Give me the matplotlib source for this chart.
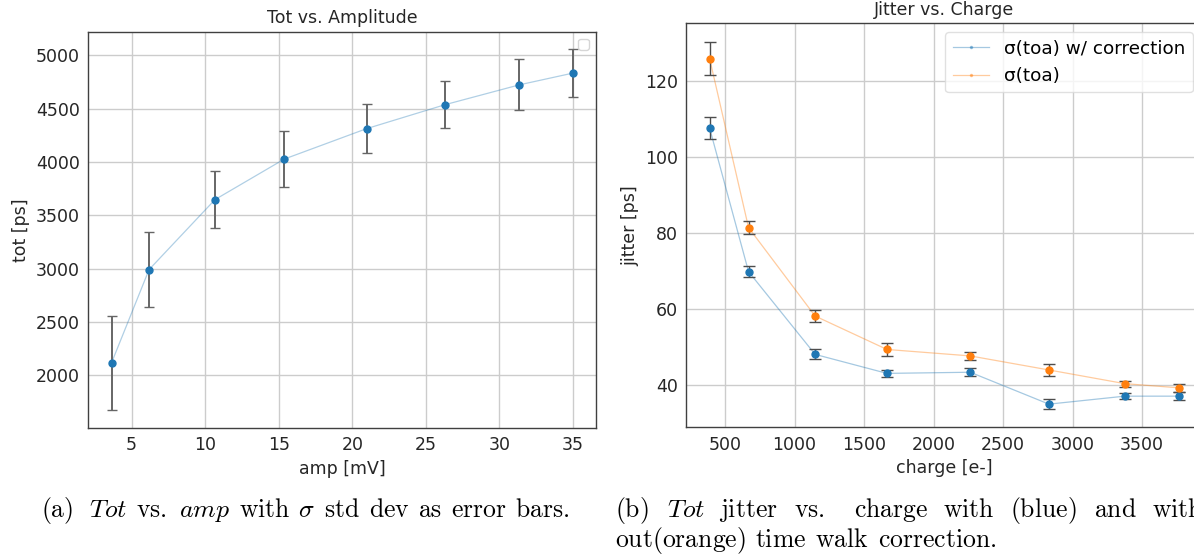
"""Two-panel figure: ToT vs. amplitude and timing jitter vs. charge.

Outputs: out.png
"""

from __future__ import annotations

import matplotlib

matplotlib.use("Agg")
import matplotlib.pyplot as plt

# --- panel (a): tot vs. amp -------------------------------------------------
amp_mv = [3.64, 6.19, 10.67, 15.38, 20.97, 26.31, 31.36, 35.0]
tot_ps = [2118, 2992, 3648, 4028, 4313, 4538, 4724, 4834]
tot_err = [440, 352, 270, 262, 228, 220, 238, 226]

# --- panel (b): jitter vs. charge -------------------------------------------
charge_e = [389, 669, 1148, 1665, 2264, 2830, 3375, 3762]
jitter_corr = [107.6, 69.8, 48.0, 43.0, 43.3, 34.9, 37.0, 37.0]
jitter_corr_err = [3.0, 1.5, 1.3, 1.0, 1.0, 1.3, 0.8, 1.0]
jitter_raw = [125.9, 81.4, 58.1, 49.3, 47.6, 43.9, 40.3, 39.2]
jitter_raw_err = [4.3, 1.7, 1.5, 1.6, 1.0, 1.5, 0.8, 1.0]
series_labels = ["σ(toa) w/ correction", "σ(toa)"]

# captions, set word by word (LaTeX-style lines)
caption_a = [r"$\mathrm{(a)}$", r"$Tot$", r"$\mathrm{vs.}$", r"$amp$", r"$\mathrm{with}$",
             r"$\sigma$", r"$\mathrm{std}$", r"$\mathrm{dev}$", r"$\mathrm{as}$",
             r"$\mathrm{error}$", r"$\mathrm{bars.}$"]
caption_b1 = [r"$\mathrm{(b)}$", r"$Tot$", r"$\mathrm{jitter}$", r"$\mathrm{vs.}$",
              r"$\mathrm{charge}$", r"$\mathrm{with}$", r"$\mathrm{(blue)}$",
              r"$\mathrm{and}$", r"$\mathrm{with}$-"]
caption_b2 = [r"$\mathrm{out(orange)}$", r"$\mathrm{time}$", r"$\mathrm{walk}$",
              r"$\mathrm{correction.}$"]

W, H = 1194, 554
TICK_FS = 12.5
LEG_FS = 13.2
CAP_FS = 18.5

# spacing (pixels) between caption words; line (b1) is justified so it
# uses fixed left edges instead
CAP_A_GAPS = [16, 9, 12, 9, 8, 9, 9, 9, 9, 8]
CAP_B1_X = [615, 667, 719, 794, 854, 943, 1010, 1094, 1152]
CAP_B2_GAPS = [9, 9, 9]


def style_axes(ax):
    ax.set_facecolor("white")
    ax.grid(True, color="0.8", linewidth=1.0)
    ax.set_axisbelow(True)
    for sp in ax.spines.values():
        sp.set_color("0.25")
        sp.set_linewidth(1.0)
    ax.tick_params(length=0, pad=6, labelsize=TICK_FS, colors="0.15")


def px(x0, y_top, x1, y_bot):
    return [x0 / W, 1 - y_bot / H, (x1 - x0) / W, (y_bot - y_top) / H]


def cap_text(fig, x, baseline, s):
    return fig.text(x / W, 1 - baseline / H, s, fontsize=CAP_FS, math_fontfamily="cm",
                    va="baseline", ha="left", color="black")


def put_fixed(fig, words, xs, baseline):
    for w, x in zip(words, xs):
        cap_text(fig, x, baseline, w)


def put_flow(fig, words, x0, gaps, baseline):
    renderer = fig.canvas.get_renderer()
    x = x0
    for i, w in enumerate(words):
        t = cap_text(fig, x, baseline, w)
        bb = t.get_window_extent(renderer)
        x = x + bb.width + (gaps[i] if i < len(gaps) else 0)


def main() -> int:
    fig = plt.figure(figsize=(W / 100, H / 100), dpi=100)

    # (a)
    ax1 = fig.add_axes(px(88, 31.7, 596.2, 427.7))
    style_axes(ax1)
    ax1.plot(amp_mv, tot_ps, "-", color="C0", alpha=0.35, lw=0.9)
    ax1.errorbar(amp_mv, tot_ps, yerr=tot_err, fmt="o", color="C0", ms=5,
                 ecolor="0.4", elinewidth=1.4, capsize=3.5, capthick=1.0)
    ax1.set_xlim(2.04, 36.58)
    ax1.set_ylim(1510, 5222)
    ax1.set_xticks(range(5, 40, 5))
    ax1.set_yticks(range(2000, 5001, 500))
    ax1.set_xlabel("amp [mV]", fontsize=TICK_FS, color="0.15")
    ax1.set_ylabel("tot [ps]", fontsize=TICK_FS, color="0.15")
    ax1.set_title("Tot vs. Amplitude", fontsize=TICK_FS, color="0.15")
    ax1.legend(handles=[], loc="upper right")

    # (b)
    ax2 = fig.add_axes(px(686.4, 23.3, 1202, 427.3))
    style_axes(ax2)
    for ys, es, col, lab in [(jitter_corr, jitter_corr_err, "C0", series_labels[0]),
                             (jitter_raw, jitter_raw_err, "C1", series_labels[1])]:
        ax2.plot(charge_e, ys, ".-", color=col, alpha=0.4, lw=0.9, ms=3, label=lab)
        ax2.errorbar(charge_e, ys, yerr=es, fmt="o", color=col, ms=5,
                     ecolor="0.3", elinewidth=1.0, capsize=4, capthick=1.0)
    ax2.set_xlim(222, 3931)
    ax2.set_ylim(28.8, 135.2)
    ax2.set_xticks(range(500, 3501, 500))
    ax2.set_yticks(range(40, 121, 20))
    ax2.set_xlabel("charge [e-]", fontsize=TICK_FS, color="0.15")
    ax2.set_ylabel("jitter [ps]", fontsize=TICK_FS, color="0.15")
    ax2.set_title("Jitter vs. Charge", fontsize=TICK_FS, color="0.15")
    ax2.legend(loc="upper right", fontsize=LEG_FS, framealpha=0.8,
               edgecolor="0.85")

    # captions
    put_flow(fig, caption_a, 41, CAP_A_GAPS, 517)
    put_fixed(fig, caption_b1, CAP_B1_X, 517)
    put_flow(fig, caption_b2, 615, CAP_B2_GAPS, 547)

    fig.savefig("out.png", dpi=100)
    plt.close(fig)
    return 0


if __name__ == "__main__":
    raise SystemExit(main())
